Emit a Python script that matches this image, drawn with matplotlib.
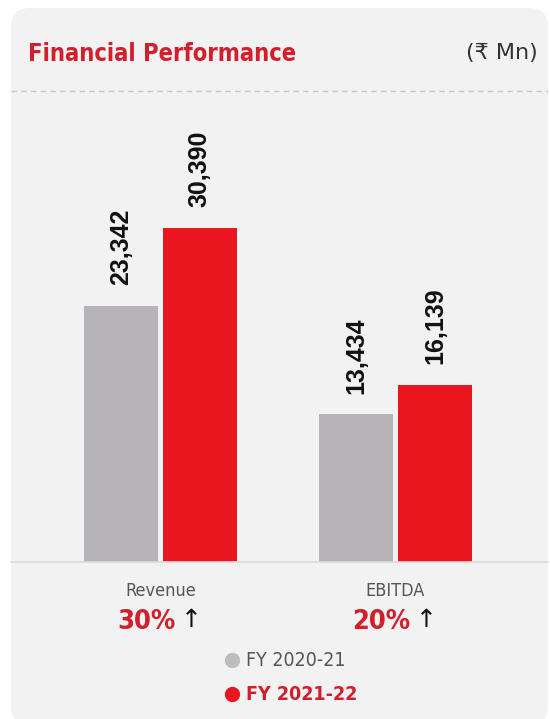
import matplotlib.pyplot as plt
from matplotlib.patches import FancyBboxPatch
from matplotlib.lines import Line2D

# data
categories = ["Revenue", "EBITDA"]
fy_prev = [23342, 13434]
fy_curr = [30390, 16139]
growth = ["30%", "20%"]
series_names = ["FY 2020-21", "FY 2021-22"]

GRAY = "#b6b4b9"
RED = "#e9151f"
TITLE_RED = "#d31f2c"
CARD = "#f2f2f2"

plt.rcParams['font.family'] = ['DejaVu Sans']

W, H = 550, 719
fig = plt.figure(figsize=(W / 100, H / 100), dpi=100, facecolor="white")

def fx(px):
    return px / W

def fy(py):
    return 1 - py / H

# card background
card = FancyBboxPatch((fx(11), fy(725)), fx(548) - fx(11), fy(8) - fy(725),
                      boxstyle="round,pad=0,rounding_size=0.035",
                      transform=fig.transFigure, facecolor=CARD, edgecolor="none",
                      mutation_aspect=W / H, zorder=-10)
fig.patches.append(card)

# title row
fig.text(fx(28), fy(54), "Financial Performance", color=TITLE_RED, fontsize=17,
         fontweight="bold", fontstretch="condensed", ha="left", va="center")
fig.text(fx(538), fy(53), "(₹ Mn)", color="#333333", fontsize=16,
         ha="right", va="center", family=['DejaVu Sans'])
fig.add_artist(Line2D([fx(11), fx(548)], [fy(91), fy(91)], transform=fig.transFigure,
                      color="#c8c8c8", lw=1.0, ls=(0, (4, 3))))

# baseline
fig.add_artist(Line2D([fx(11), fx(548)], [fy(562), fy(562)], transform=fig.transFigure,
                      color="#dadada", lw=1.2))

# plot area
ax = fig.add_axes([fx(10), fy(562), fx(540) - fx(10), fy(90) - fy(562)])
ax.set_facecolor("none")
x = range(len(categories))
w = 0.315
off = 0.168
ax.bar([i - off for i in x], fy_prev, width=w, color=GRAY, zorder=2)
ax.bar([i + off for i in x], fy_curr, width=w, color=RED, zorder=2)
ax.set_xlim(-0.640, 1.615)
ax.set_ylim(0, 42983)
ax.axis("off")

for i in x:
    for xpos, v in ((i - off, fy_prev[i]), (i + off, fy_curr[i])):
        ax.annotate(f"{v:,}", (xpos, v), xytext=(0, 15), textcoords="offset points",
                    rotation=90, ha="center", va="bottom", fontsize=18,
                    fontweight="bold", fontstretch="normal", color="#111111",
                    family=['Liberation Sans', 'DejaVu Sans'])

# category labels and growth (offsets in points)
for i, cat in enumerate(categories):
    ax.annotate(cat, (i, 0), xytext=(0, -21), textcoords="offset points",
                ha="center", va="center", fontsize=13, color="#555555", fontstretch="condensed")
    ax.annotate(growth[i], (i, 0), xytext=(-10, -43), textcoords="offset points",
                ha="center", va="center", fontsize=19.5, fontweight="bold", color=TITLE_RED,
                fontstretch="condensed")
    ax.annotate("↑", (i, 0), xytext=(22, -42), textcoords="offset points",
                ha="center", va="center", fontsize=18, color="#111111",
                family=['DejaVu Sans'])

# legend
for py, name, col, txtcol, wt in ((660, series_names[0], "#bdbdbd", "#555555", "normal"),
                                  (694, series_names[1], RED, TITLE_RED, "bold")):
    fig.add_artist(Line2D([fx(232)], [fy(py)], transform=fig.transFigure, marker="o",
                          markersize=10, color=col, lw=0))
    fig.text(fx(246), fy(py), name, color=txtcol, fontsize=14, fontweight=wt,
             fontstretch="condensed", ha="left", va="center")

fig.savefig("out.png", dpi=100, facecolor="white")
